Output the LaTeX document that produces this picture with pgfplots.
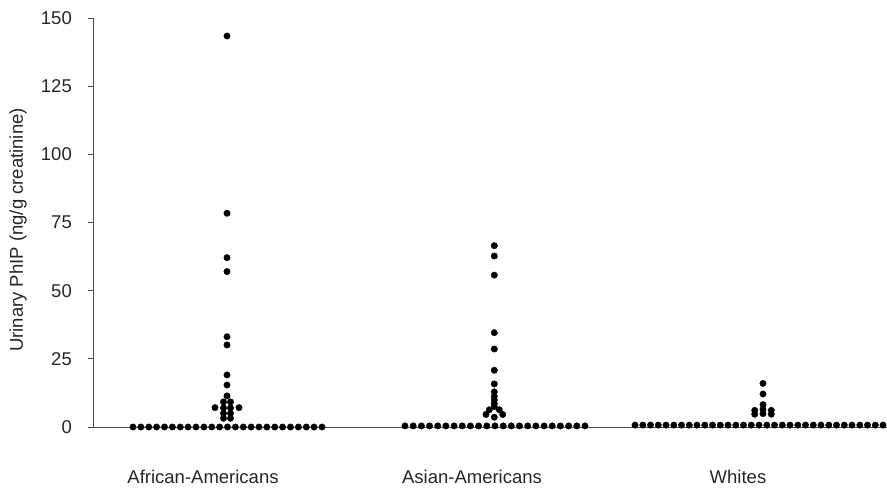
\documentclass[border=0pt]{standalone}
\usepackage{fontspec}
\setmainfont{Liberation Sans}
\usepackage{pgfplots}
\pgfplotsset{compat=1.18}
\definecolor{axisgray}{gray}{0.3}
\begin{document}
\begin{tikzpicture}
\useasboundingbox (-93pt,-61pt) rectangle (794pt,427pt);
\begin{axis}[
  scale only axis, width=794pt, height=409pt,
  xmin=0, xmax=794, ymin=0, ymax=150,
  axis lines*=left,
  axis line style={axisgray, line width=0.8pt},
  clip=false,
  ytick={0,25,...,150},
  tick align=outside, major tick length=5pt,
  ytick style={axisgray, line width=0.7pt},
  xtick={110,379,645},
  xticklabels={African-Americans, Asian-Americans, Whites},
  xtick style={draw=none},
  tick label style={font=\fontsize{18.5}{22}\selectfont, text=black!85},
  xticklabel style={anchor=base, yshift=-51pt},
  yticklabel style={anchor=east, inner sep=0pt, xshift=-16pt},
  /pgf/number format/assume math mode=true,
]
% African-Americans
\addplot[only marks, mark=*, mark size=3.2pt, black] coordinates {
 (40,0)(47.9,0)(55.8,0)(63.6,0)(71.5,0)(79.4,0)(87.3,0)(95.1,0)(103,0)(110.9,0)(118.8,0)(126.6,0)(134.5,0)(142.4,0)(150.3,0)(158.1,0)(166,0)(173.9,0)(181.8,0)(189.6,0)(197.5,0)(205.4,0)(213.3,0)(221.1,0)(229,0)
 (134,143.4)(134,78.4)(134,62.1)(134,57.0)(134,33.1)(134,30.1)(134,19.1)(134,15.4)(134,11.4)
 (130.5,9.2)(130.5,7.0)(130.5,5.0)(130.5,3.2)(137.5,9.2)(137.5,7.0)(137.5,5.0)(137.5,3.2)
 (122,7.1)(146,7.1)
};
% Asian-Americans
\addplot[only marks, mark=*, mark size=3.2pt, black] coordinates {
 (312,0.4)(320.2,0.4)(328.4,0.4)(336.5,0.4)(344.7,0.4)(352.9,0.4)(361.1,0.4)(369.3,0.4)(377.4,0.4)(385.6,0.4)(393.8,0.4)(402,0.4)(410.2,0.4)(418.3,0.4)(426.5,0.4)(434.7,0.4)(442.9,0.4)(451.1,0.4)(459.2,0.4)(467.4,0.4)(475.6,0.4)(483.8,0.4)(492,0.4)
 (401.3,66.5)(401.3,62.7)(401.3,55.7)(401.3,34.6)(401.3,28.6)(401.3,20.8)(401.3,15.8)(401.3,12.9)(401.3,11.2)(401.3,9.9)(401.3,8.6)(401.3,7.5)(401.3,3.6)
 (396.3,6.3)(406.3,6.3)(393,4.6)(409.7,4.6)
};
% Whites
\addplot[only marks, mark=*, mark size=3.2pt, black] coordinates {
 (542,0.7)(549.8,0.7)(557.5,0.7)(565.3,0.7)(573,0.7)(580.8,0.7)(588.5,0.7)(596.3,0.7)(604,0.7)(611.8,0.7)(619.5,0.7)(627.3,0.7)(635,0.7)(642.8,0.7)(650.5,0.7)(658.3,0.7)(666,0.7)(673.8,0.7)(681.5,0.7)(689.3,0.7)(697,0.7)(704.8,0.7)(712.5,0.7)(720.3,0.7)(728,0.7)(735.8,0.7)(743.5,0.7)(751.3,0.7)(759,0.7)(766.8,0.7)(774.5,0.7)(782.3,0.7)(790,0.7)
 (670,16.0)(670,12.1)(670,8.2)(670,6.4)(670,4.9)
 (661.7,6.1)(661.7,4.7)(678.3,6.1)(678.3,4.7)
};
\end{axis}
\node[rotate=90, font=\fontsize{18.5}{22}\selectfont, text=black!85] at (-75pt,197pt) {Urinary PhIP (ng/g creatinine)};
\end{tikzpicture}
\end{document}
